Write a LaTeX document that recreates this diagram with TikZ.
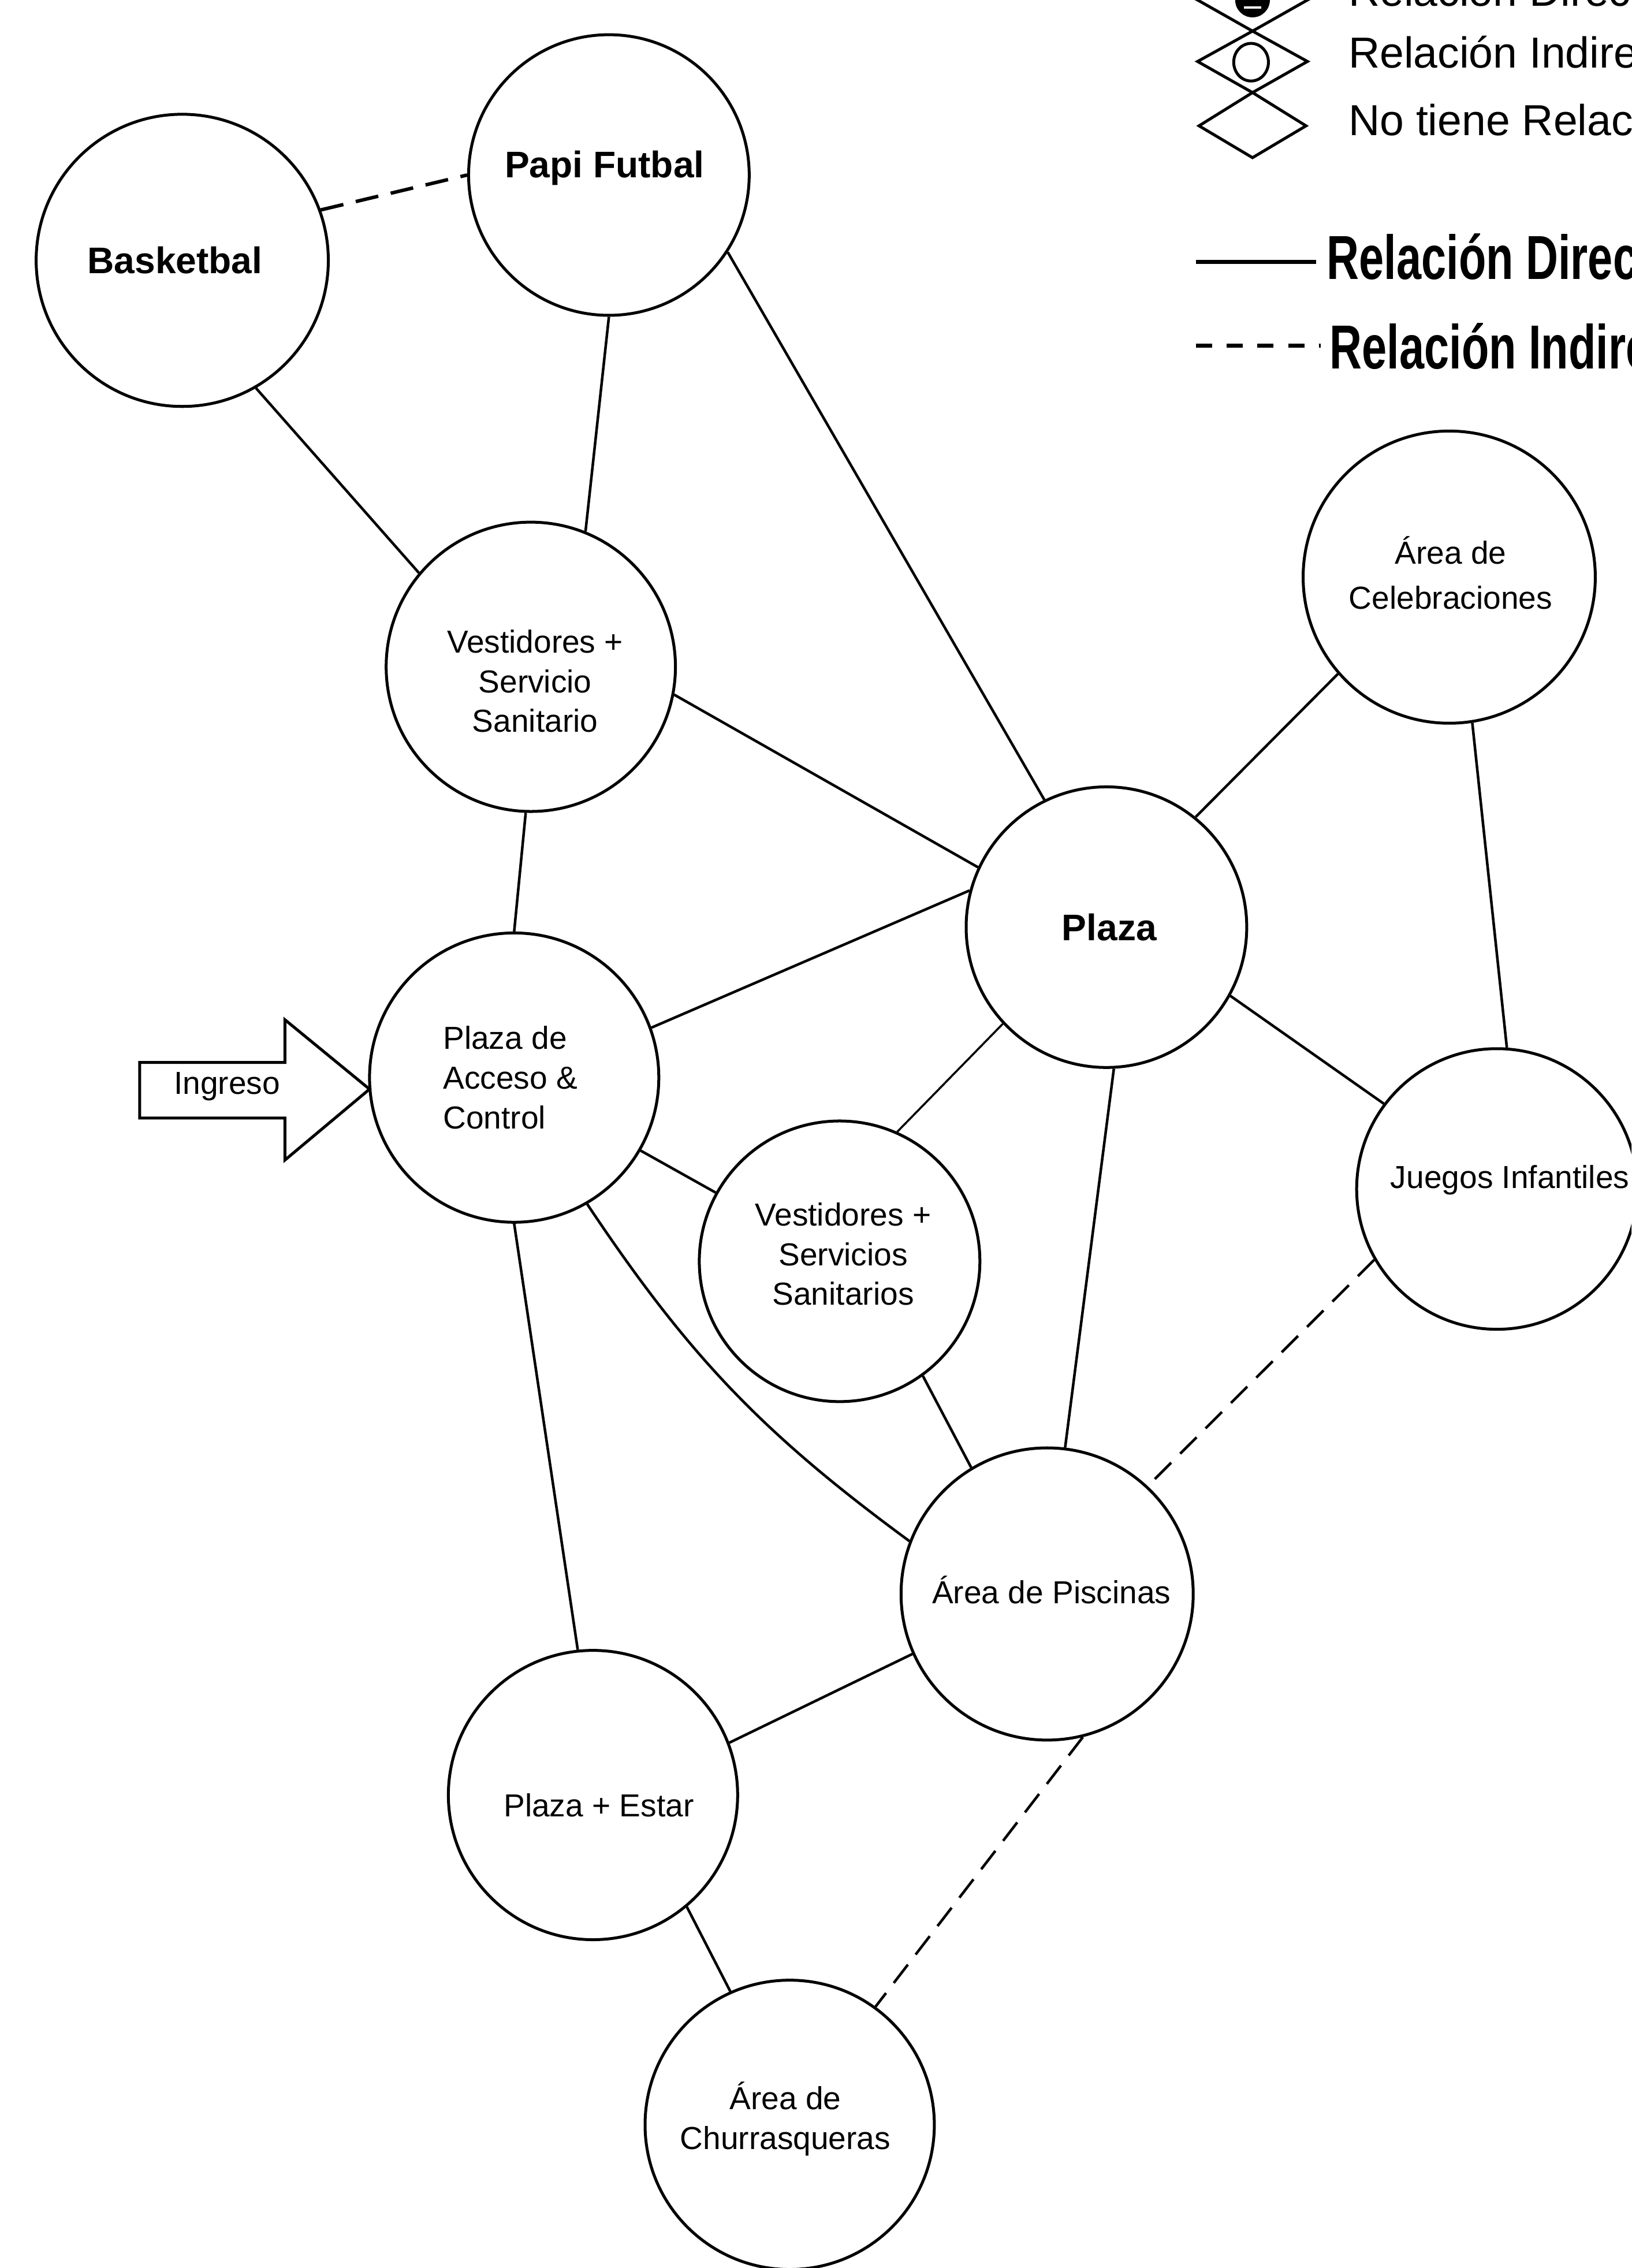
\documentclass[tikz,border=0pt]{standalone}
\usepackage{fontspec}
\setmainfont{Liberation Sans}
\usepackage{graphicx}
\begin{document}
\begin{tikzpicture}[x=0.5pt,y=-0.5pt,
  circ/.style={draw, circle, line width=1pt, inner sep=0pt},
  lbl/.style={align=center, font=\fontsize{11}{13.7}\selectfont, inner sep=0pt},
  blbl/.style={font=\fontsize{12.8}{15}\selectfont\bfseries, inner sep=0pt},
  conn/.style={line width=0.9pt},
  ind/.style={line width=0.9pt, dash pattern=on 8pt off 4.4pt},
  legtxt/.style={anchor=base west, inner sep=0pt, font=\fontsize{15}{18}\selectfont},
  bigtxt/.style={anchor=base west, inner sep=0pt},
]
\useasboundingbox (0,0) rectangle (1128,1568);
\clip (0,0) rectangle (1128,1568);

% ---------- nodes ----------
\node[circ, minimum size=101pt] (bask) at (126,180) {};
\node[blbl] (baskt) at (121,180) {Basketbal};
\node[circ, minimum size=97pt] (papi) at (421,121) {};
\node[blbl] (papit) at (418,116) {Papi Futbal};
\node[circ, minimum size=100pt] (ves1) at (367,461) {};
\node[lbl] (ves1t) at (370,471) {Vestidores +\\Servicio\\Sanitario};
\node[circ, minimum size=101pt] (cel) at (1002,399) {};
\node[lbl] (celt) at (1003,396) {Área de\\[2pt]Celebraciones};
\node[circ, minimum size=97pt] (plaza) at (765,641) {};
\node[blbl] (plazat) at (767,641) {Plaza};
\node[circ, minimum size=100pt] (acc) at (355.5,745) {};
\node[lbl, align=left, anchor=west] (acct) at (306,745) {Plaza de\\Acceso \&\\Control};
\node[circ, minimum size=97pt] (ves2) at (580.5,872) {};
\node[lbl] (ves2t) at (583,867) {Vestidores +\\Servicios\\Sanitarios};
\node[circ, minimum size=97pt] (jue) at (1035,822) {};
\node[lbl] (juet) at (1044,816) {Juegos Infantiles};
\node[circ, minimum size=101pt] (pis) at (724,1102) {};
\node[lbl] (pist) at (727,1099) {Área de Piscinas};
\node[circ, minimum size=100pt] (pe) at (410,1241) {};
\node[lbl] (pet) at (414,1248) {Plaza + Estar};
\node[circ, minimum size=100pt] (ch) at (546,1469) {};
\node[lbl] (cht) at (543,1465) {Área de\\Churrasqueras};

% ---------- entrance arrow ----------
\draw[line width=1pt] (96.6,734.5) -- (197,734.5) -- (197,705) -- (255.5,753)
      -- (197,802) -- (197,773) -- (96.6,773) -- cycle;
\node[lbl] (ingt) at (157,751) {Ingreso};

% ---------- connectors ----------
\draw[ind, line width=1.2pt] (bask.20) -- (papi.180);
\draw[conn] (bask.-60) -- (ves1.140);
\draw[conn] (papi.-90) -- (ves1.68);
\draw[conn] (papi.-33) -- (plaza.116);
\draw[conn] (ves1.-11) -- (plaza.155);
\draw[conn] (ves1.-92) -- (acc.90);
\draw[conn] (cel.-139) -- (plaza.51);
\draw[conn] (cel.-81) -- (jue.86);
\draw[conn] (acc.20) -- (plaza.165);
\draw[conn] (plaza.-29) -- (jue.143);
\draw[conn, line width=0.7pt] (plaza.-137) -- (ves2.66);
\draw[conn] (plaza.-87) -- (pis.83);
\draw[conn] (acc.-30) -- (ves2.151);
\draw[conn] (acc.-60) to[bend right=10] (pis.159);
\draw[conn] (acc.-90) -- (pe.96);
\draw[conn] (ves2.-54) -- (pis.121);
\draw[ind] (jue.-150) -- (pis.47);
\draw[conn] (pis.-156) -- (pe.21);
\draw[ind] (pis.-76) -- (ch.54);
\draw[conn] (pe.-50) -- (ch.114);

% ---------- legend ----------
\draw[line width=1pt] (828,0) -- (866,-21.5) -- (904,0) -- (866,21.5) -- cycle;
\fill (866,0) circle[radius=6pt];
\draw[white, line width=0.8pt] (860,5) -- (872,5);
\draw[line width=1pt] (828,42.5) -- (866,21.5) -- (904,42.5) -- (866,64) -- cycle;
\draw[line width=1pt] (865,43) ellipse[x radius=6pt, y radius=6.5pt];
\draw[line width=1pt] (829,87) -- (866,64) -- (903,87) -- (866,109) -- cycle;
\node[legtxt] (lg1) at (932,4) {Relación Directa};
\node[legtxt] (lg2) at (932,47) {Relación Indirecta};
\node[legtxt] (lg3) at (932,93.5) {No tiene Relación};

\coordinate (ls1a) at (827,181);
\coordinate (ls1b) at (910,181);
\draw[line width=1.3pt] (ls1a) -- (ls1b);
\node[bigtxt] (lg4) at (917,193) {\scalebox{0.72}[1]{\fontsize{21.5}{24}\selectfont\bfseries Relación Directa}};
\coordinate (ls2a) at (827,239);
\coordinate (ls2b) at (913,239);
\draw[line width=1.3pt, dash pattern=on 5.6pt off 5pt] (ls2a) -- (ls2b);
\node[bigtxt] (lg5) at (919,255) {\scalebox{0.72}[1]{\fontsize{21.5}{24}\selectfont\bfseries Relación Indirecta}};
\end{tikzpicture}
\end{document}
